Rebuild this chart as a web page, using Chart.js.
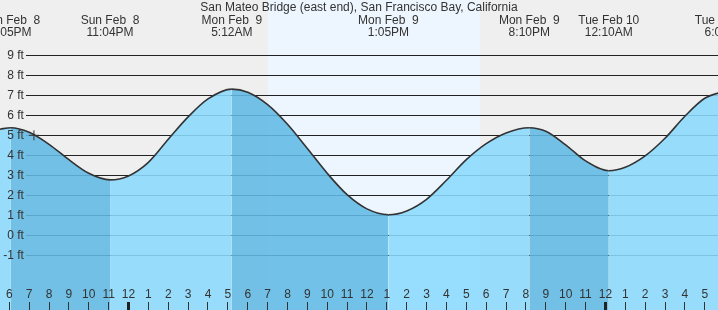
<!DOCTYPE html>
<html>
<head>
<meta charset="utf-8">
<title>San Mateo Bridge tides</title>
<script src="https://cdn.jsdelivr.net/npm/chart.js@4.4.1/dist/chart.umd.min.js"></script>
<style>
  html, body { margin: 0; padding: 0; background: #efefef; }
  #wrap { position: relative; width: 718px; height: 310px; }
</style>
</head>
<body>
<div id="wrap"><canvas id="tideChart"></canvas></div>
<script>
// ── Data (hours are counted from 6 PM Sun Feb 8) ───────────────────────────
const STATION = 'San Mateo Bridge (east end), San Francisco Bay, California';

const tideHours = [-0.5, 0.08, 1, 2, 3, 4, 5.07, 6, 7, 8, 9, 10, 11.2, 12, 13, 14, 15, 16, 17, 18,
                   19.08, 20, 21, 22, 23, 24, 25, 26.17, 27, 28, 29, 30.17, 31, 32, 33, 34, 35, 36.03];
const tideFeet  = [5.30, 5.38, 5.15, 4.55, 3.78, 3.10, 2.77, 2.97, 3.65, 4.80, 5.92, 6.82, 7.31, 7.15, 6.53, 5.55, 4.34, 3.10, 2.03, 1.32,
                   1.03, 1.22, 1.80, 2.75, 3.78, 4.58, 5.12, 5.38, 5.20, 4.52, 3.72, 3.23, 3.40, 3.97, 4.85, 5.95, 6.85, 7.22];

// high / low tide labels along the top
const extremeHours = [0.08, 5.07, 11.2, 19.08, 26.17, 30.17, 36.03];
const extremeDays  = ['Sun Feb  8', 'Sun Feb  8', 'Mon Feb  9', 'Mon Feb  9', 'Mon Feb  9', 'Tue Feb 10', 'Tue Feb 10'];
const extremeTimes = ['6:05PM', '11:04PM', '5:12AM', '1:05PM', '8:10PM', '12:10AM', '6:02AM'];

// hour ticks along the bottom
const hourTicks  = [0, 1, 2, 3, 4, 5, 6, 7, 8, 9, 10, 11, 12, 13, 14, 15, 16, 17,
                    18, 19, 20, 21, 22, 23, 24, 25, 26, 27, 28, 29, 30, 31, 32, 33, 34, 35];
const hourLabels = ['6', '7', '8', '9', '10', '11', '12', '1', '2', '3', '4', '5',
                    '6', '7', '8', '9', '10', '11', '12', '1', '2', '3', '4', '5',
                    '6', '7', '8', '9', '10', '11', '12', '1', '2', '3', '4', '5'];
const midnightHours = [6, 30];

// height ticks
const feetTicks  = [-1, 0, 1, 2, 3, 4, 5, 6, 7, 8, 9];
const feetLabels = ['-1 ft', '0 ft', '1 ft', '2 ft', '3 ft', '4 ft', '5 ft', '6 ft', '7 ft', '8 ft', '9 ft'];

// sunrise / sunset, and the "now" marker
const daylight = [13.02, 23.69];
const nowHours = [1.24];
const nowFeet  = [5.0];

// ── Layout / style ─────────────────────────────────────────────────────────
const X_MIN = -0.468, X_MAX = 35.667;
const Y_MIN = -3.735, Y_MAX = 9.845;
const LABEL_AT = 0.732;          // x value where the ft labels end (~24px)
const LINE_START = 26;           // level lines start right of the labels

const WATER_RISE = 'rgba(139,217,253,0.88)';
const WATER_FALL = 'rgba(97,186,229,0.88)';
const NIGHT_BG = '#efefef';
const DAY_BG   = '#edf6fe';
const INK      = '#333';

Chart.defaults.font.family = '"Liberation Sans", Arial, sans-serif';
Chart.defaults.font.size = 12;
Chart.defaults.color = INK;

// scales must not push the plot in from the canvas edges
function noPadding(s) {
    s.paddingLeft = 0; s.paddingRight = 0;
    s.paddingTop = 0;  s.paddingBottom = 0;
}

// background: grey, with a pale blue daylight band
const backdrop = {
    id: 'backdrop',
    beforeDraw(chart) {
        const { ctx, width, height } = chart;
        const x = chart.scales.x;
        const x0 = x.getPixelForValue(daylight[0]);
        const x1 = x.getPixelForValue(daylight[1]);
        ctx.save();
        ctx.fillStyle = NIGHT_BG;
        ctx.fillRect(0, 0, width, height);
        ctx.fillStyle = DAY_BG;
        ctx.fillRect(x0, 0, x1 - x0, height);
        ctx.restore();
    }
};

// level lines start after the labels, under the (translucent) water
const levelLines = {
    id: 'levelLines',
    beforeDatasetsDraw(chart) {
        const { ctx, chartArea } = chart;
        const y = chart.scales.y;
        ctx.save();
        ctx.strokeStyle = '#222';
        ctx.lineWidth = 1;
        y.ticks.forEach(t => {
            const py = Math.round(y.getPixelForValue(t.value)) + 0.5;
            ctx.beginPath();
            ctx.moveTo(LINE_START, py);
            ctx.lineTo(chartArea.right, py);
            ctx.stroke();
        });
        ctx.restore();
    }
};

const ctx = document.getElementById('tideChart').getContext('2d');
new Chart(ctx, {
    type: 'line',
    data: {
        datasets: [
            {
                label: 'Now',
                data: nowHours.map((h, i) => ({ x: h, y: nowFeet[i] })),
                showLine: false,
                fill: false,
                pointStyle: 'cross',
                pointRadius: 5,
                borderColor: INK,
                borderWidth: 1,
                order: 1
            },
            {
                label: 'Tide',
                data: tideHours.map((h, i) => ({ x: h, y: tideFeet[i] })),
                borderColor: INK,
                borderWidth: 1.6,
                pointRadius: 0,
                cubicInterpolationMode: 'monotone',
                fill: 'start',
                backgroundColor: WATER_RISE,
                segment: {
                    // falling tide gets the darker water
                    backgroundColor: c => c.p1.parsed.y < c.p0.parsed.y ? WATER_FALL : WATER_RISE
                },
                order: 2
            }
        ]
    },
    options: {
        responsive: true,
        maintainAspectRatio: false,
        animation: false,
        layout: { padding: 0, autoPadding: false },
        plugins: {
            legend: { display: false },
            tooltip: { enabled: false },
            title: {
                display: true,
                text: STATION,
                color: INK,
                font: { size: 12, weight: 'normal' },
                padding: 0
            }
        },
        scales: {
            x: {
                type: 'linear',
                position: 'bottom',
                min: X_MIN, max: X_MAX,
                bounds: 'data',
                afterBuildTicks: s => { s.ticks = hourTicks.map(v => ({ value: v })); },
                afterFit: s => { noPadding(s); s.height = 0; },
                ticks: {
                    z: 1,
                    mirror: true,
                    padding: 8,
                    autoSkip: false,
                    maxRotation: 0,
                    color: INK,
                    callback: (v, i) => hourLabels[i]
                },
                grid: {
                    z: 1,
                    drawOnChartArea: false,
                    drawTicks: true,
                    tickLength: -8,
                    tickColor: c => midnightHours.includes(c.tick.value) ? '#222' : INK,
                    tickWidth: c => midnightHours.includes(c.tick.value) ? 3 : 1
                },
                border: { display: false }
            },
            x2: {
                type: 'linear',
                position: 'top',
                min: X_MIN, max: X_MAX,
                bounds: 'data',
                afterBuildTicks: s => { s.ticks = extremeHours.map(v => ({ value: v })); },
                afterFit: noPadding,
                ticks: {
                    padding: 0,
                    autoSkip: false,
                    maxRotation: 0,
                    color: INK,
                    font: { size: 12, lineHeight: 1 },
                    callback: (v, i) => [extremeDays[i], extremeTimes[i]]
                },
                grid: { display: false, drawTicks: false },
                border: { display: false }
            },
            y: {
                type: 'linear',
                position: { x: LABEL_AT },
                min: Y_MIN, max: Y_MAX,
                afterBuildTicks: s => { s.ticks = feetTicks.map(v => ({ value: v })); },
                afterFit: s => { noPadding(s); s.width = 0; },
                ticks: {
                    z: 1,
                    padding: 0,
                    color: INK,
                    callback: (v, i) => feetLabels[i]
                },
                grid: { display: false, drawTicks: false },
                border: { display: false }
            }
        }
    },
    plugins: [backdrop, levelLines]
});
</script>
</body>
</html>
